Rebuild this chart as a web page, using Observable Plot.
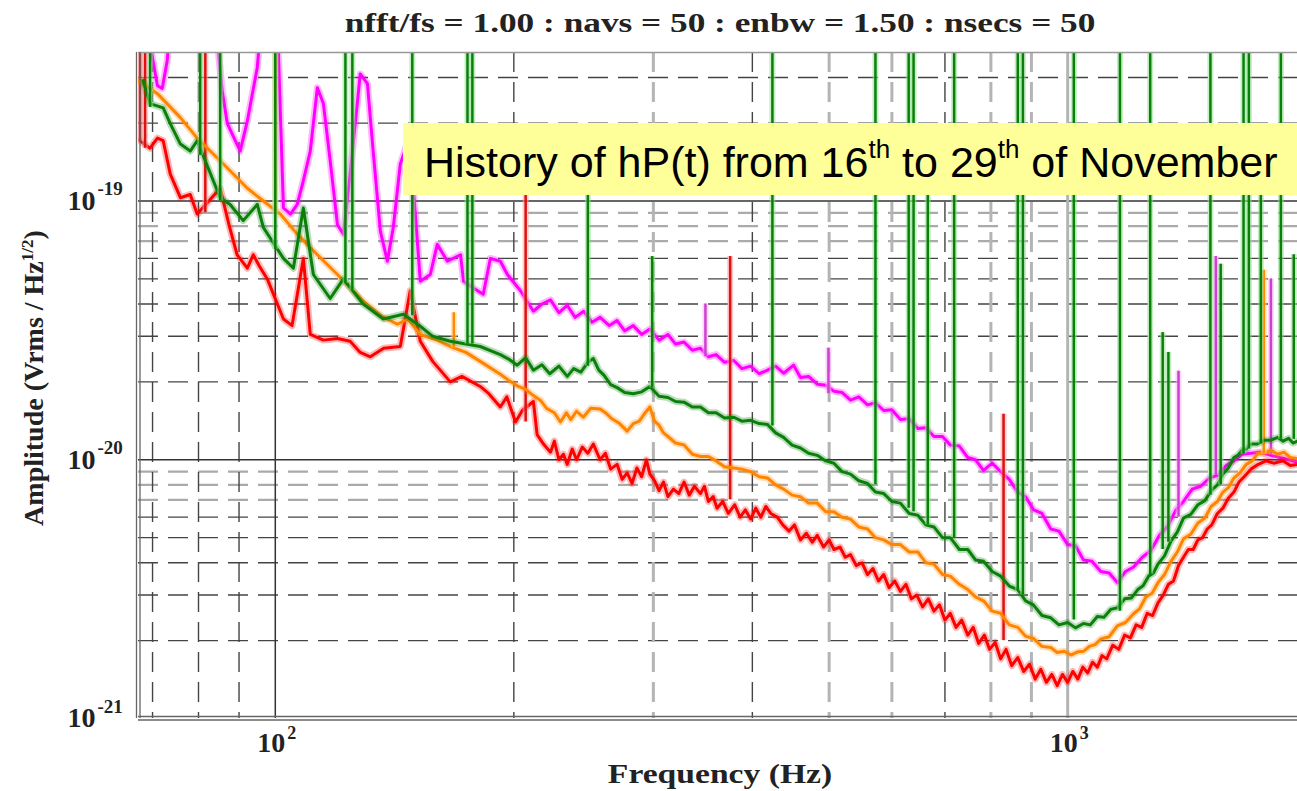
<!DOCTYPE html>
<html><head><meta charset="utf-8">
<script src="https://cdn.jsdelivr.net/npm/d3@7"></script>
<script src="https://cdn.jsdelivr.net/npm/@observablehq/plot@0.6"></script>
<style>
body{margin:0;background:#fff;overflow:hidden}
#wrap{position:relative;width:1297px;height:791px;overflow:hidden}
.serif{position:absolute;font-family:"Liberation Serif","Times New Roman",serif;font-weight:bold;color:#222;white-space:nowrap;line-height:28px;font-size:28px}
#box{position:absolute;left:403px;top:123px;width:894px;height:72px;background:#ffff99;font-family:"Liberation Sans",Arial,sans-serif;font-size:43px;line-height:79px;color:#000;white-space:nowrap;box-sizing:border-box;padding-left:21px}
#box span{font-size:26px;position:relative;top:-19px}
</style></head><body>
<div id="wrap"></div>
<script>
// ---- data ----
const titleText = "nfft/fs = 1.00 : navs = 50 : enbw = 1.50 : nsecs = 50";
const xLabel = "Frequency (Hz)";
const xTicks = [100, 1000];
const xTickExp = ["2", "3"];
const yTicks = [1e-19, 1e-20, 1e-21];
const yTickExp = ["-19", "-20", "-21"];
const xMinor = [70, 80, 90, 200, 300, 400, 500, 600, 700, 800, 900];
const xMajor = [100, 1000];
const yMinor = [2e-21,3e-21,4e-21,5e-21,6e-21,7e-21,8e-21,9e-21,2e-20,3e-20,4e-20,5e-20,6e-20,7e-20,8e-20,9e-20,2e-19,3e-19];
const yMajor = [1e-20, 1e-19];

const magenta = [[67.5,5e-19],[69.9,3.65e-19],[71.0,2.79e-19],[72.0,2.72e-19],[73.05,3.49e-19],[73.7,5e-19],[84.0,5e-19],[85.7,2.67e-19],[87.0,1.99e-19],[90.3,1.56e-19],[92.2,2.04e-19],[94.9,3.28e-19],[96.0,5e-19],[100.6,5e-19],[102.4,9.4e-20],[104.5,8.9e-20],[106.6,9.7e-20],[108.5,1.2e-19],[110.7,1.56e-19],[113.0,2.74e-19],[115.0,2.38e-19],[117.3,1.43e-19],[119.8,8.1e-20],[121.9,7.45e-20],[124.3,1.27e-19],[128.0,3.1e-19],[130.7,2.84e-19],[132.9,1.56e-19],[135.7,7.65e-20],[138.5,5.85e-20],[140.9,7.9e-20],[143.8,1.39e-19],[147.2,1.71e-19],[149.8,1.0e-19],[152.4,4.9e-20],[156.9,5.2e-20],[160.1,6.8e-20],[164.9,5.85e-20],[171.3,6.2e-20],[172.8,4.9e-20],[178,4.6e-20],[183.0,4.36e-20],[186.8,6.0e-20],[192.3,5.85e-20],[196.3,5.2e-20],[203.9,4.5e-20],[211.7,3.75e-20],[217,4.0e-20],[222.5,4.15e-20],[228,3.7e-20],[233.6,3.95e-20],[239,3.55e-20],[245,3.75e-20],[251,3.4e-20],[257,3.55e-20],[264,3.3e-20],[270,3.45e-20],[276,3.15e-20],[283,3.3e-20],[290,3.05e-20],[297,3.2e-20],[305,2.9e-20],[313,3.05e-20],[320,2.8e-20],[328,2.85e-20],[336,2.65e-20],[344,2.7e-20],[352,2.5e-20],[360,2.55e-20],[369,2.38e-20],[379,2.42e-20],[388,2.25e-20],[398,2.3e-20],[408,2.15e-20],[418,2.22e-20],[428,2.3e-20],[438,2.16e-20],[451,2.32e-20],[460,2.08e-20],[471,2.1e-20],[483,1.96e-20],[495,1.94e-20],[507,1.84e-20],[519,1.82e-20],[532,1.7e-20],[545,1.75e-20],[559,1.63e-20],[572,1.66e-20],[586,1.55e-20],[600,1.56e-20],[615,1.43e-20],[631,1.44e-20],[647,1.32e-20],[662,1.33e-20],[678,1.23e-20],[695,1.23e-20],[711,1.14e-20],[730,1.13e-20],[748,1.02e-20],[765,1.0e-20],[783,9.1e-21],[803,9.7e-21],[823,9.0e-21],[844,8.4e-21],[865,7.5e-21],[885,7.2e-21],[906,6.4e-21],[928,6.2e-21],[952,5.4e-21],[975,5.3e-21],[1000,4.7e-21],[1023,4.65e-21],[1047,4.1e-21],[1073,4.05e-21],[1101,3.7e-21],[1128,3.65e-21],[1156,3.35e-21],[1183,3.7e-21],[1211,3.85e-21],[1242,4.2e-21],[1273,4.45e-21],[1305,5.1e-21],[1338,5.55e-21],[1370,6.4e-21],[1400,6.9e-21],[1436,7.7e-21],[1472,7.9e-21],[1510,8.5e-21],[1546,8.7e-21],[1585,9.5e-21],[1621,9.9e-21],[1660,1.05e-20],[1703,1.06e-20],[1750,1.07e-20],[1805,1.04e-20],[1880,1.01e-20],[1950,9.8e-21]];

const green = [[68.1,2.92e-19],[69.5,2.38e-19],[72.2,2.29e-19],[73.7,1.99e-19],[75.9,1.66e-19],[78.1,1.56e-19],[79.7,1.71e-19],[85.2,1.03e-19],[87.7,9.7e-20],[91.1,8.4e-20],[94.9,9.7e-20],[96.6,7.9e-20],[102.4,6.0e-20],[105.4,5.5e-20],[108.5,9.4e-20],[111.7,5.2e-20],[117.3,4.2e-20],[121.9,5.0e-20],[129.1,4.0e-20],[136.9,3.5e-20],[145.1,3.65e-20],[152.4,3.28e-20],[158,3.0e-20],[166.3,2.87e-20],[174,2.8e-20],[181.4,2.74e-20],[192.3,2.55e-20],[197,2.45e-20],[202,2.32e-20],[207,2.48e-20],[211.7,2.22e-20],[217,2.33e-20],[222,2.15e-20],[228,2.3e-20],[233.6,2.1e-20],[238,2.25e-20],[243,2.18e-20],[248,2.38e-20],[252,2.46e-20],[256,2.22e-20],[260,2.12e-20],[265,1.95e-20],[270,1.9e-20],[276,1.82e-20],[283,1.8e-20],[290,1.83e-20],[297,1.92e-20],[305,1.76e-20],[313,1.74e-20],[320,1.68e-20],[328,1.67e-20],[336,1.6e-20],[344,1.6e-20],[352,1.52e-20],[360,1.52e-20],[369,1.45e-20],[379,1.46e-20],[388,1.41e-20],[398,1.42e-20],[408,1.38e-20],[418,1.37e-20],[428,1.27e-20],[438,1.22e-20],[449,1.14e-20],[460,1.11e-20],[471,1.06e-20],[483,1.04e-20],[495,9.9e-21],[507,9.7e-21],[519,9.0e-21],[532,8.8e-21],[545,8.3e-21],[559,8.1e-21],[572,7.5e-21],[586,7.4e-21],[600,6.9e-21],[615,6.8e-21],[631,6.2e-21],[647,6.1e-21],[662,5.6e-21],[678,5.5e-21],[695,5.0e-21],[711,5.0e-21],[730,4.5e-21],[748,4.5e-21],[765,4.1e-21],[783,4.05e-21],[803,3.7e-21],[823,3.55e-21],[844,3.25e-21],[865,3.15e-21],[885,2.85e-21],[905,2.75e-21],[928,2.5e-21],[952,2.45e-21],[975,2.3e-21],[1000,2.35e-21],[1023,2.24e-21],[1047,2.33e-21],[1068,2.3e-21],[1090,2.48e-21],[1111,2.46e-21],[1133,2.64e-21],[1156,2.68e-21],[1180,2.9e-21],[1203,2.92e-21],[1226,3.15e-21],[1245,3.26e-21],[1265,3.55e-21],[1283,3.65e-21],[1300,3.95e-21],[1325,4.25e-21],[1350,4.85e-21],[1375,5.25e-21],[1400,5.95e-21],[1430,6.15e-21],[1460,6.7e-21],[1490,6.95e-21],[1517,7.6e-21],[1545,8.0e-21],[1570,8.8e-21],[1595,9.3e-21],[1621,1.02e-20],[1640,1.04e-20],[1660,1.09e-20],[1680,1.1e-20],[1703,1.15e-20],[1735,1.15e-20],[1770,1.19e-20],[1805,1.19e-20],[1842,1.22e-20],[1870,1.18e-20],[1900,1.21e-20],[1925,1.16e-20],[1950,1.18e-20]];

const orange = [[67.2,2.92e-19],[71.0,2.6e-19],[75.9,2.1e-19],[79.7,1.75e-19],[86.0,1.39e-19],[92.2,1.12e-19],[96.6,1.0e-19],[101.5,8.9e-20],[106.6,7.45e-20],[113,6.2e-20],[119.8,5.2e-20],[129.1,4.1e-20],[136,3.6e-20],[142.6,3.34e-20],[147,3.5e-20],[152.4,3.05e-20],[160,2.9e-20],[166.3,2.74e-20],[174,2.6e-20],[181.4,2.4e-20],[192.3,2.14e-20],[197,2.03e-20],[202,1.93e-20],[207,1.87e-20],[211.7,1.77e-20],[216,1.7e-20],[220,1.58e-20],[225,1.52e-20],[229,1.4e-20],[233,1.52e-20],[236,1.43e-20],[240,1.54e-20],[244.7,1.46e-20],[250,1.58e-20],[257,1.57e-20],[261,1.52e-20],[266,1.44e-20],[272,1.38e-20],[278,1.29e-20],[283,1.38e-20],[288,1.41e-20],[293,1.52e-20],[297,1.6e-20],[301,1.41e-20],[305,1.36e-20],[309,1.27e-20],[313,1.23e-20],[320,1.16e-20],[328,1.14e-20],[336,1.05e-20],[344,1.03e-20],[352,1.03e-20],[360,9.9e-21],[369,9.4e-21],[379,9.3e-21],[388,9.2e-21],[398,9.0e-21],[408,8.6e-21],[418,8.5e-21],[428,8.0e-21],[438,7.7e-21],[449,7.3e-21],[460,7.2e-21],[471,6.8e-21],[483,6.8e-21],[495,6.3e-21],[507,6.3e-21],[519,6.0e-21],[532,5.9e-21],[545,5.5e-21],[559,5.4e-21],[572,5.0e-21],[586,4.9e-21],[600,4.7e-21],[615,4.7e-21],[631,4.4e-21],[647,4.4e-21],[662,4.0e-21],[678,3.95e-21],[695,3.6e-21],[711,3.55e-21],[730,3.3e-21],[748,3.15e-21],[765,2.95e-21],[783,2.85e-21],[803,2.6e-21],[823,2.55e-21],[844,2.3e-21],[865,2.25e-21],[885,2.08e-21],[905,2.04e-21],[928,1.9e-21],[952,1.88e-21],[970,1.8e-21],[990,1.82e-21],[1010,1.76e-21],[1030,1.81e-21],[1048,1.82e-21],[1065,1.9e-21],[1083,1.93e-21],[1101,2.03e-21],[1128,2.07e-21],[1155,2.28e-21],[1183,2.35e-21],[1211,2.54e-21],[1233,2.66e-21],[1255,2.95e-21],[1278,3.05e-21],[1300,3.35e-21],[1325,3.6e-21],[1350,4.05e-21],[1375,4.4e-21],[1400,4.95e-21],[1430,5.15e-21],[1460,5.7e-21],[1490,5.95e-21],[1517,6.6e-21],[1545,6.9e-21],[1570,7.5e-21],[1595,7.8e-21],[1621,8.5e-21],[1650,8.9e-21],[1680,9.6e-21],[1710,9.9e-21],[1738,1.06e-20],[1770,1.06e-20],[1805,1.09e-20],[1840,1.05e-20],[1875,1.07e-20],[1910,1.02e-20],[1950,1.01e-20]];

const red = [[67.5,1.71e-19],[69.5,1.60e-19],[71,1.75e-19],[72.2,1.71e-19],[73.7,1.27e-19],[75.9,1.03e-19],[78.1,1.06e-19],[79.7,8.9e-20],[85.2,1.12e-19],[87.5,8.0e-20],[89.5,6.2e-20],[92.2,5.5e-20],[93.8,6.2e-20],[95.5,5.6e-20],[97.7,5.0e-20],[102.4,3.5e-20],[105,3.3e-20],[108.5,6.0e-20],[110.7,3.05e-20],[115,2.9e-20],[119.8,2.94e-20],[124.3,2.87e-20],[128,2.6e-20],[131.8,2.5e-20],[137,2.7e-20],[143.8,2.74e-20],[148,4.5e-20],[152.4,2.87e-20],[158,2.4e-20],[166.3,2.0e-20],[172,2.1e-20],[181.4,1.92e-20],[186,1.8e-20],[192.3,1.6e-20],[196,1.75e-20],[201,1.4e-20],[205,1.55e-20],[211.7,1.68e-20],[214,1.25e-20],[218,1.15e-20],[222.5,1.07e-20],[225,1.18e-20],[228,1.0e-20],[231,1.05e-20],[233.6,9.6e-21],[237,1.1e-20],[240,1.0e-20],[244,1.12e-20],[248,1.06e-20],[252,1.15e-20],[257,1.0e-20],[261,1.06e-20],[265,9.2e-21],[270,9.6e-21],[274,8.4e-21],[278,8.9e-21],[282,8.1e-21],[286,9.3e-21],[290,8.6e-21],[294,1.0e-20],[297,8.8e-21],[301,8.3e-21],[305,7.6e-21],[309,8.2e-21],[313,7.2e-21],[318,7.7e-21],[323,7.4e-21],[328,8.2e-21],[333,7.3e-21],[338,7.9e-21],[344,7.4e-21],[348,7.9e-21],[352,6.9e-21],[357,7.2e-21],[361,6.5e-21],[367,6.9e-21],[373,6.2e-21],[380,6.7e-21],[386,6.0e-21],[392,6.4e-21],[398,5.9e-21],[404,6.5e-21],[410,6.0e-21],[416,6.6e-21],[422,6.2e-21],[430,6.0e-21],[437,5.6e-21],[445,5.3e-21],[452,5.6e-21],[460,4.9e-21],[468,5.2e-21],[476,4.8e-21],[483,5.1e-21],[492,4.6e-21],[500,4.9e-21],[507,4.5e-21],[516,4.6e-21],[524,4.2e-21],[532,4.3e-21],[541,3.9e-21],[550,4.0e-21],[559,3.6e-21],[568,3.8e-21],[577,3.4e-21],[586,3.6e-21],[595,3.2e-21],[605,3.4e-21],[615,3.1e-21],[625,3.3e-21],[635,2.9e-21],[645,3.0e-21],[656,2.7e-21],[667,2.9e-21],[678,2.6e-21],[689,2.75e-21],[700,2.4e-21],[711,2.55e-21],[723,2.25e-21],[735,2.4e-21],[748,2.1e-21],[760,2.25e-21],[772,1.95e-21],[785,2.1e-21],[797,1.85e-21],[810,1.97e-21],[823,1.7e-21],[836,1.85e-21],[850,1.6e-21],[865,1.72e-21],[880,1.52e-21],[895,1.62e-21],[910,1.42e-21],[925,1.55e-21],[940,1.38e-21],[955,1.48e-21],[970,1.34e-21],[985,1.48e-21],[1000,1.38e-21],[1015,1.52e-21],[1030,1.42e-21],[1045,1.58e-21],[1060,1.5e-21],[1075,1.65e-21],[1090,1.58e-21],[1105,1.75e-21],[1120,1.7e-21],[1140,1.92e-21],[1160,1.85e-21],[1180,2.1e-21],[1200,2.05e-21],[1220,2.3e-21],[1240,2.25e-21],[1260,2.55e-21],[1280,2.5e-21],[1300,2.8e-21],[1320,3.0e-21],[1340,3.3e-21],[1360,3.4e-21],[1380,3.9e-21],[1400,4.2e-21],[1420,4.5e-21],[1440,4.5e-21],[1460,4.9e-21],[1480,5.0e-21],[1500,5.4e-21],[1520,5.6e-21],[1545,6.2e-21],[1570,6.5e-21],[1595,7.1e-21],[1621,7.5e-21],[1645,8.2e-21],[1670,8.6e-21],[1703,9.2e-21],[1740,9.6e-21],[1780,9.9e-21],[1820,9.7e-21],[1870,9.9e-21],[1910,9.5e-21],[1950,9.6e-21]];

// spikes: [frequency, low amplitude, peak amplitude]
const greenSpikes = [[69.5,2.3e-19,1e-18],[80.4,1.5e-19,1e-18],[85.2,1.0e-19,1e-18],[100,6.5e-20,1e-18],[122.6,4.8e-20,1e-18],[125.1,4.5e-20,1e-18],[148.9,3.6e-20,1e-18],[174.8,2.8e-20,1e-18],[177.3,2.8e-20,1e-18],[248,2.3e-20,1.3e-19],[299,1.9e-20,6.1e-20],[424,1.35e-20,1e-18],[572,8e-21,1e-18],[630,6.5e-21,1e-18],[639,6.3e-21,1e-18],[666,5.6e-21,1.3e-19],[719,5e-21,1e-18],[865,3.1e-21,1e-18],[878,3.0e-21,1e-18],[1018,2.4e-21,1e-18],[1164,2.6e-21,1e-18],[1271,3.6e-21,1e-18],[1318,4.5e-21,3.1e-20],[1340,4.8e-21,2.6e-20],[1514,7.3e-21,1e-18],[1560,8e-21,5.7e-20],[1667,1.05e-20,1e-18],[1693,1.1e-20,1e-18],[1753,1.15e-20,1.3e-19],[1858,1.2e-20,1e-18],[1929,1.2e-20,6.2e-20]];
const redSpikes = [[67.5,1.7e-19,1e-18],[68.5,1.6e-19,1e-18],[81.6,9e-20,1e-18],[207,1.4e-20,1.05e-19],[375,7e-21,6.1e-20],[830,2e-21,1.5e-20]];
const magentaSpikes = [[349,2.5e-20,4.0e-20],[499,1.8e-20,2.7e-20],[1380,6e-21,2.2e-20],[1538,8.7e-21,6.1e-20],[1805,1.05e-20,5.0e-20]];
const orangeSpikes = [[100,9e-20,1e-18],[168,2.7e-20,3.7e-20],[1768,1.05e-20,5.4e-20]];

// ---- styling ----
const xDomain = [67.2, 1950], yDomain = [1e-21, 3.75e-19];
const faintX = new Set([300, 500, 600, 800, 900]);
const faintY = new Set([7e-21, 8e-21, 9e-21, 7e-20, 8e-20, 9e-20]);
const C = {magenta:"#ff00ff", green:"#0a800a", orange:"#ff8400", red:"#ff0000"};
const serif = "Liberation Serif, Times New Roman, serif";
const spikeMarks = (arr, color, halo) => [
  Plot.ruleX(arr, {x: d => d[0], y1: d => d[1], y2: d => d[2], stroke: halo, strokeWidth: 6, strokeOpacity: 0.55, clip: true}),
  Plot.ruleX(arr, {x: d => d[0], y1: d => d[1], y2: d => d[2], stroke: color, strokeWidth: 2.5, clip: true})
];
const lineMarks = (arr, color) => [
  Plot.line(arr, {x: d => d[0], y: d => d[1], stroke: color, strokeWidth: 7, strokeOpacity: 0.28, strokeLinejoin: "round", clip: true}),
  Plot.line(arr, {x: d => d[0], y: d => d[1], stroke: color, strokeWidth: 3, strokeLinejoin: "round", clip: true})
];

const plot = Plot.plot({
  width: 1297, height: 791,
  marginLeft: 138, marginRight: 0, marginTop: 52, marginBottom: 73,
  style: {background: "#fff", overflow: "visible"},
  x: {type: "log", domain: xDomain, axis: null},
  y: {type: "log", domain: yDomain, axis: null},
  marks: [
    Plot.ruleY(yMinor, {y: d => d, stroke: d => faintY.has(d) ? "#aaa" : "#444", strokeWidth: d => faintY.has(d) ? 2.2 : 1.4, strokeDasharray: "20,10"}),
    Plot.ruleX(xMinor, {x: d => d, stroke: d => faintX.has(d) ? "#b4b4b4" : "#444", strokeWidth: d => faintX.has(d) ? 3 : 1.4, strokeDasharray: "20,10"}),
    Plot.ruleY(yMajor, {y: d => d, stroke: "#333", strokeWidth: 1.4}),
    Plot.ruleX(xMajor, {x: d => d, stroke: d => d === 1000 ? "#b4b4b4" : "#333", strokeWidth: d => d === 1000 ? 3 : 1.5}),
    ...lineMarks(magenta, C.magenta),
    ...spikeMarks(magentaSpikes, "#d040d0", "#f5b0f5"),
    ...lineMarks(red, C.red),
    ...spikeMarks(redSpikes, "#e01010", "#f5a0a0"),
    ...lineMarks(orange, C.orange),
    ...spikeMarks(orangeSpikes, "#ff8c00", "#ffd090"),
    ...lineMarks(green, C.green),
    ...spikeMarks(greenSpikes, C.green, "#8fe08f"),
    Plot.ruleY([yDomain[1]], {stroke: "#999", strokeWidth: 1.5}),
    Plot.ruleY([yDomain[0]], {stroke: "#666", strokeWidth: 1.3, dy: -2}),
    Plot.ruleY([yDomain[0]], {stroke: "#666", strokeWidth: 1.3, dy: 1.5}),
    Plot.ruleX([xDomain[0]], {stroke: "#666", strokeWidth: 1.3, dx: 1.5}),
    Plot.ruleX([xDomain[0]], {stroke: "#666", strokeWidth: 1.3, dx: -2}),
    Plot.text(xTicks, {x: d => d, text: () => "10", frameAnchor: "bottom", textAnchor: "end", dx: 10, dy: 33, fontSize: 28, fontWeight: "bold", fontFamily: serif, fill: "#222", ariaLabel: "stretch"}),
    Plot.text(xTicks, {x: d => d, text: (d, i) => xTickExp[i], frameAnchor: "bottom", textAnchor: "start", dx: 12, dy: 20, fontSize: 18, fontWeight: "bold", fontFamily: serif, fill: "#222", ariaLabel: "stretch"}),
    Plot.text(yTicks, {y: d => d, text: () => "10", frameAnchor: "left", textAnchor: "end", dx: -43, dy: 0, fontSize: 28, fontWeight: "bold", fontFamily: serif, fill: "#222", ariaLabel: "stretch"}),
    Plot.text(yTicks, {y: d => d, text: (d, i) => yTickExp[i], frameAnchor: "left", textAnchor: "start", dx: -41, dy: -12, fontSize: 19, fontWeight: "bold", fontFamily: serif, fill: "#222", ariaLabel: "stretch"})
  ]
});
plot.style.position = "absolute"; plot.style.left = "0"; plot.style.top = "0";
plot.querySelectorAll('g[aria-label="stretch"] text').forEach(t => {
  const x = +t.getAttribute("x") || 0, y = +t.getAttribute("y") || 0;
  t.removeAttribute("x"); t.removeAttribute("y");
  const tr = t.getAttribute("transform") || "";
  t.setAttribute("transform", `${tr} translate(${x},${y}) scale(1.22,1)`);
});
const wrap = document.getElementById("wrap");
wrap.appendChild(plot);

const title = document.createElement("div");
title.className = "serif"; title.textContent = titleText;
Object.assign(title.style, {left: "720px", top: "9px", transform: "translateX(-50%) scaleX(1.26)"});
wrap.appendChild(title);

const xl = document.createElement("div");
xl.className = "serif"; xl.textContent = xLabel;
Object.assign(xl.style, {left: "720px", top: "760px", transform: "translateX(-50%) scaleX(1.2)"});
wrap.appendChild(xl);

const yl = document.createElement("div");
yl.className = "serif";
yl.innerHTML = 'Amplitude (Vrms / Hz<span style="font-size:17px;position:relative;top:-10px">1/2</span>)';
Object.assign(yl.style, {left: "36px", top: "378px", transform: "translate(-50%,-50%) rotate(-90deg)"});
wrap.appendChild(yl);

const box = document.createElement("div");
box.id = "box";
box.innerHTML = 'History of hP(t) from 16<span>th</span> to 29<span>th</span> of November';
wrap.appendChild(box);
</script>
</body></html>
